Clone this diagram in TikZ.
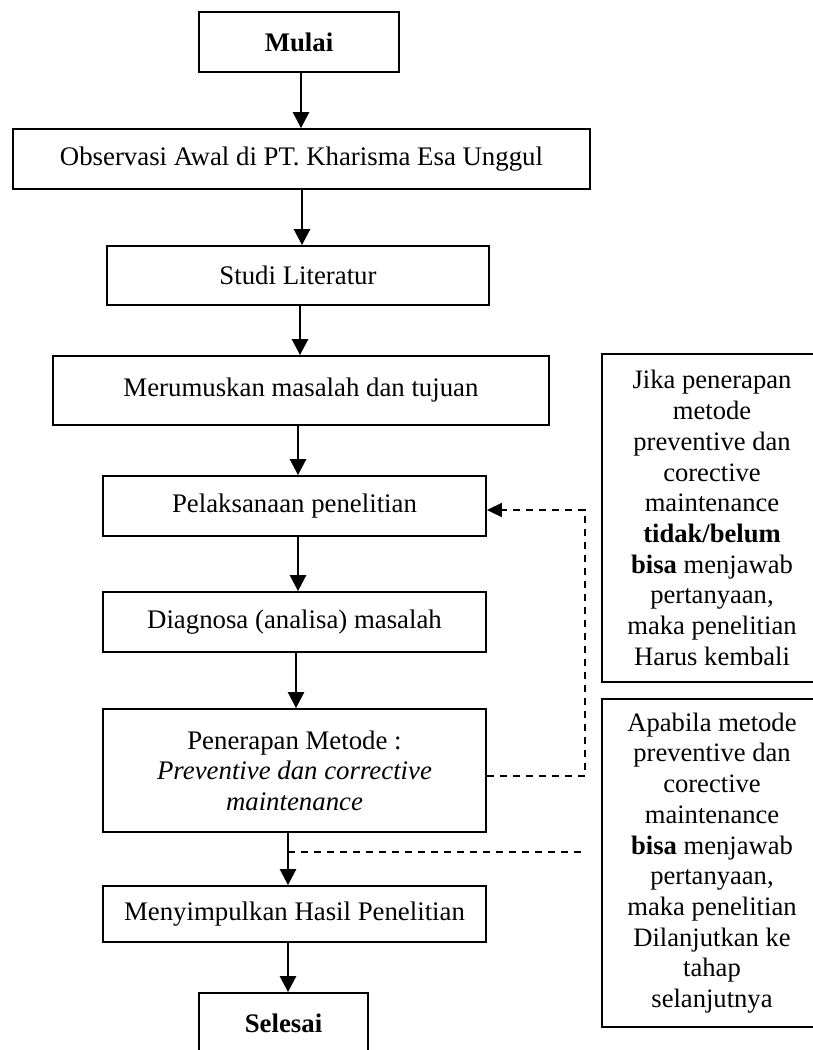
\documentclass[tikz,border=0pt]{standalone}
\usepackage{fontspec}
\setmainfont{Liberation Serif}
\usetikzlibrary{arrows.meta}
\begin{document}
\begin{tikzpicture}[x=1pt,y=-1pt,
  box/.style={draw, line width=1.8pt, inner sep=0pt, align=center, font=\fontsize{26.8}{30.5}\selectfont},
  note/.style={draw, line width=1.8pt, inner sep=0pt, align=center, minimum width=220pt, minimum height=328pt, font=\fontsize{26.6}{30.7}\selectfont},
  arr/.style={line width=2.6pt, -{Triangle[length=16pt,width=16pt]}},
  dashline/.style={line width=1.6pt, dash pattern=on 7pt off 6pt},
  dasharr/.style={dashline, -{Triangle[length=15pt,width=14pt]}},
]
\useasboundingbox (0,0) rectangle (813,1050);
\clip (0,0) rectangle (813,1050);

\node[box, minimum width=200pt, minimum height=60pt] (mulai) at (299,42) {\textbf{Mulai}};
\node[box, minimum width=577pt, minimum height=60pt] (obs) at (301.5,159) {Observasi Awal di PT. Kharisma Esa Unggul};
\node[box, minimum width=382pt, minimum height=59pt] (studi) at (298,275.5) {Studi Literatur};
\node[box, minimum width=496pt, minimum height=69pt] (merum) at (301,390.5) {\raisebox{5pt}{Merumuskan masalah dan tujuan}};
\node[box, minimum width=383pt, minimum height=60pt] (pelak) at (294.5,506) {Pelaksanaan penelitian};
\node[box, minimum width=383pt, minimum height=60pt] (diag) at (294.5,622) {Diagnosa (analisa) masalah};
\node[box, minimum width=383pt, minimum height=123pt] (pen) at (294.5,770.5) {Penerapan Metode :\\\textit{Preventive dan corrective}\\\textit{maintenance}};
\node[box, minimum width=383pt, minimum height=56pt] (meny) at (294.5,914) {Menyimpulkan Hasil Penelitian};
\node[box, minimum width=169pt, minimum height=60pt] (sel) at (283.5,1023) {\textbf{Selesai}};

\node[note] (note1) at (712,518) {Jika penerapan\\metode\\preventive dan\\corective\\maintenance\\\textbf{tidak/belum}\\\textbf{bisa} menjawab\\pertanyaan,\\maka penelitian\\Harus kembali};
\node[note] (note2) at (712,863) {Apabila metode\\preventive dan\\corective\\maintenance\\\textbf{bisa} menjawab\\pertanyaan,\\maka penelitian\\Dilanjutkan ke\\tahap\\selanjutnya};

\draw[arr] ([xshift=2pt]mulai.south) -- ([xshift=-0.5pt]obs.north);
\draw[arr] ([xshift=0.5pt]obs.south) -- ([xshift=4pt]studi.north);
\draw[arr] ([xshift=2pt]studi.south) -- ([xshift=-1pt]merum.north);
\draw[arr] ([xshift=-3pt]merum.south) -- ([xshift=3.5pt]pelak.north);
\draw[arr] ([xshift=3.5pt]pelak.south) -- ([xshift=3.5pt]diag.north);
\draw[arr] ([xshift=1.5pt]diag.south) -- ([xshift=1.5pt]pen.north);
\draw[arr] ([xshift=-6.5pt]pen.south) -- ([xshift=-6.5pt]meny.north);
\draw[arr] ([xshift=-6.5pt]meny.south) -- ([xshift=4.5pt]sel.north);

\coordinate (loopc) at (585,510);
\draw[dasharr] ([yshift=-5.5pt]pen.east) -| (loopc) -- ([yshift=-4pt]pelak.east);

\coordinate (d2s) at (288,852);
\coordinate (d2e) at (584,852);
\draw[dashline] (d2s) -- (d2e);
\end{tikzpicture}
\end{document}
